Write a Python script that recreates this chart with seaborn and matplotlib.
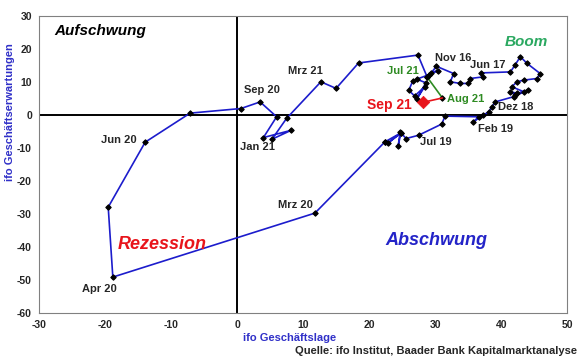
"""
ifo Konjunkturuhr: Geschäftslage vs. Geschäftserwartungen (Saldo), 2016-2021.
"""
import numpy as np
import pandas as pd
import matplotlib
matplotlib.use("Agg")
import matplotlib.pyplot as plt
import seaborn as sns

# ── Data ──────────────────────────────────────────────────────────────────────
months = pd.date_range("2016-01", "2021-09", freq="MS")

lage = [
    26.6, 26.0, 26.9, 28.4, 27.2, 28.6, 27.2, 29.0, 30.4, 29.4,      # 2016 Jan-Okt
    30.2, 32.8,                                                        # Nov-Dez 16
    32.3, 33.8, 35.0, 35.3, 37.3, 37.0, 41.4, 42.1, 42.9, 43.9, 45.9, 45.4,  # 2017
    43.4, 42.4, 41.6, 43.4, 42.4, 41.4, 42.1, 44.0, 41.9, 39.1, 38.6, 38.1,  # 2018
    37.3, 35.8, 36.6, 31.5, 31.0, 27.5, 25.6, 24.7, 24.4, 24.8, 22.9, 24.9,  # 2019
    22.4, 22.4, 11.8, -18.8, -19.5, -13.9, -7.1, 0.6, 3.5, 6.0, 4.0, 8.2,    # 2020
    5.3, 7.5, 12.7, 15.0, 18.4, 27.4, 28.8, 31.1, 28.2,              # 2021
]
erwartungen = [
    10.3, 7.5, 5.8, 8.6, 4.8, 9.8, 10.9, 12.2, 13.5, 12.8,
    14.8, 12.6,
    10.1, 9.6, 9.6, 11.1, 11.6, 12.8, 13.1, 15.2, 17.7, 15.7, 12.6, 11.1,
    10.6, 10.1, 8.6, 7.1, 6.6, 7.1, 6.1, 7.6, 5.6, 4.0, 2.5, 1.0,
    0.0, -2.0, -0.5, -0.3, -2.7, -6.1, -7.1, -5.1, -9.4, -5.4, -8.4, -5.3,
    -8.1, -8.1, -29.7, -49.1, -27.9, -8.2, 0.6, 2.0, 4.0, -0.5, -6.8, -4.6,
    -7.3, -1.0, 10.1, 8.1, 15.8, 18.2, 11.5, 5.2, 3.9,
]
n = min(len(months), len(lage), len(erwartungen))
df = pd.DataFrame({"month": months[:n], "lage": lage[:n], "erw": erwartungen[:n]})

# month labels shown in the chart: (label, text x, text y)
month_labels = [
    ("Nov 16", 30.0, 17.3), ("Jun 17", 35.3, 15.2), ("Dez 18", 39.5, 2.4),
    ("Feb 19", 36.5, -4.2), ("Jul 19", 27.7, -8.2), ("Mrz 20", 6.2, -27.3),
    ("Apr 20", -23.5, -52.7), ("Jun 20", -20.6, -7.6), ("Sep 20", 1.1, 7.6),
    ("Jan 21", 0.5, -9.7), ("Mrz 21", 7.7, 13.4),
]

BLUE = "#1c1ccc"
GREEN = "#2e8b22"
RED = "#e8141b"
LABEL_BLUE = "#3030c8"

# ── Style ─────────────────────────────────────────────────────────────────────
sns.set_style("white")
plt.rcParams["font.family"] = ["Liberation Sans", "DejaVu Sans"]
plt.rcParams["font.weight"] = "bold"
plt.rcParams["axes.unicode_minus"] = False

fig = plt.figure(figsize=(5.8, 3.59), dpi=100)
ax = fig.add_axes([0.067, 0.128, 0.911, 0.827])

ax.axhline(0, color="black", linewidth=1.4, zorder=1)
ax.axvline(0, color="black", linewidth=1.4, zorder=1)

main = df.iloc[:-2]
sns.lineplot(data=main, x="lage", y="erw", sort=False, estimator=None,
             color=BLUE, linewidth=1.2, marker="D", markersize=2.8,
             markerfacecolor="black", markeredgecolor="black", ax=ax, zorder=3)
sns.lineplot(data=df.iloc[-3:-1], x="lage", y="erw", sort=False, estimator=None,
             color=GREEN, linewidth=1.2, marker="D", markersize=2.8,
             markerfacecolor="black", markeredgecolor="black", ax=ax, zorder=4)
sns.lineplot(data=df.iloc[-2:], x="lage", y="erw", sort=False, estimator=None,
             color=RED, linewidth=1.2, ax=ax, zorder=4)
sns.scatterplot(data=df.iloc[-1:], x="lage", y="erw", color=RED, marker="D",
                s=40, edgecolor=RED, ax=ax, zorder=5)

for text, tx, ty in month_labels:
    ax.text(tx, ty, text, fontsize=8, fontweight="bold", ha="left", va="center")
ax.text(22.7, 13.4, "Jul 21", fontsize=8, fontweight="bold", color=GREEN, va="center")
ax.text(31.8, 4.8, "Aug 21", fontsize=8, fontweight="bold", color=GREEN, va="center")
ax.text(19.7, 3.0, "Sep 21", fontsize=10, fontweight="bold", color=RED, va="center")

# quadrant names
ax.text(-27.6, 25.5, "Aufschwung", fontsize=11, fontweight="bold", style="italic",
        color="black", va="center")
ax.text(40.6, 22.1, "Boom", fontsize=11, fontweight="bold", style="italic",
        color="#2aa860", va="center")
ax.text(-18.0, -39.1, "Rezession", fontsize=13, fontweight="bold", style="italic",
        color=RED, va="center")
ax.text(22.4, -37.9, "Abschwung", fontsize=13, fontweight="bold", style="italic",
        color="#2424c8", va="center")

ax.set_xlim(-30, 50)
ax.set_ylim(-60, 30)
ax.set_xticks(np.arange(-30, 51, 10))
ax.set_yticks(np.arange(-60, 31, 10))
ax.tick_params(axis="both", direction="out", length=3, width=0.8,
               color="#808080", labelsize=7.5, pad=2)
for lbl in ax.get_xticklabels() + ax.get_yticklabels():
    lbl.set_fontweight("bold")
for sp in ax.spines.values():
    sp.set_color("#808080")
    sp.set_linewidth(0.8)
ax.set_xlabel("")
ax.set_ylabel("")

fig.text(290 / 580, 1 - 338 / 359, "ifo Geschäftslage", color=LABEL_BLUE,
         fontsize=8, fontweight="bold", ha="center", va="center")
fig.text(10 / 580, 1 - 112 / 359, "ifo Geschäftserwartungen", color=LABEL_BLUE,
         fontsize=8, fontweight="bold", ha="center", va="center", rotation=90)
fig.text(577 / 580, 1 - 351 / 359, "Quelle: ifo Institut, Baader Bank Kapitalmarktanalyse",
         fontsize=8, fontweight="bold", ha="right", va="center")

fig.savefig("out.png", dpi=100)
